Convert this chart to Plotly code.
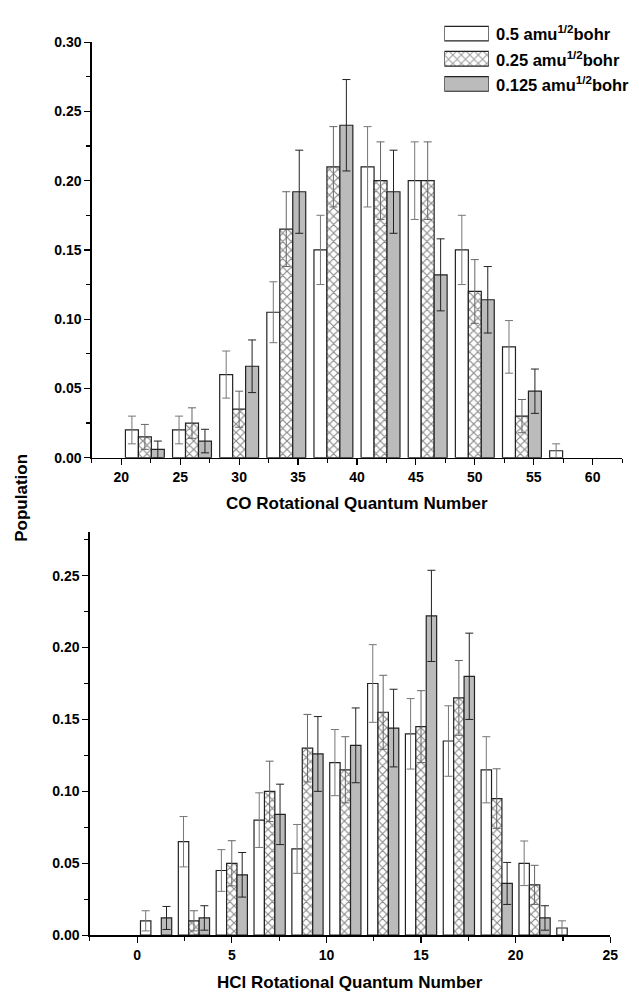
import plotly.graph_objects as go

# ---------------- data ----------------
series_names = ["0.5 amu<sup>1/2</sup>bohr", "0.25 amu<sup>1/2</sup>bohr", "0.125 amu<sup>1/2</sup>bohr"]

co_j = [22, 26, 30, 34, 38, 42, 46, 50, 54, 58]
co_05 = [0.020, 0.020, 0.060, 0.105, 0.150, 0.210, 0.200, 0.150, 0.080, 0.005]
co_05_err = [0.010, 0.010, 0.017, 0.022, 0.025, 0.029, 0.028, 0.025, 0.019, 0.005]
co_025 = [0.015, 0.025, 0.035, 0.165, 0.210, 0.200, 0.200, 0.120, 0.030, None]
co_025_err = [0.009, 0.011, 0.013, 0.027, 0.029, 0.028, 0.028, 0.023, 0.012, None]
co_0125 = [0.006, 0.012, 0.066, 0.192, 0.240, 0.192, 0.132, 0.114, 0.048, None]
co_0125_err = [0.006, 0.0085, 0.019, 0.030, 0.033, 0.030, 0.026, 0.024, 0.016, None]

hcl_j = [1, 3, 5, 7, 9, 11, 13, 15, 17, 19, 21, 23]
hcl_05 = [0.010, 0.065, 0.045, 0.080, 0.060, 0.120, 0.175, 0.140, 0.135, 0.115, 0.050, 0.005]
hcl_05_err = [0.007, 0.0175, 0.0145, 0.019, 0.017, 0.023, 0.027, 0.0245, 0.0245, 0.023, 0.0155, 0.005]
hcl_025 = [None, 0.010, 0.050, 0.100, 0.130, 0.115, 0.155, 0.145, 0.165, 0.095, 0.035, None]
hcl_025_err = [None, 0.007, 0.0157, 0.021, 0.0235, 0.023, 0.0257, 0.025, 0.026, 0.0207, 0.0136, None]
hcl_0125 = [0.012, 0.012, 0.042, 0.084, 0.126, 0.132, 0.144, 0.222, 0.180, 0.036, 0.012, None]
hcl_0125_err = [0.008, 0.0085, 0.0155, 0.021, 0.026, 0.026, 0.027, 0.0317, 0.030, 0.0146, 0.0085, None]

co_xticks = [20, 25, 30, 35, 40, 45, 50, 55, 60]
hcl_xticks = [0, 5, 10, 15, 20, 25]

# ---------------- styles ----------------
FONT = "Liberation Sans, Arial, sans-serif"
EDGE = dict(color="#222222", width=1.2)
GRAY = "#bbbbbb"
HATCH = dict(shape="x", fgcolor="#111111", bgcolor="white", size=6, solidity=0.35)
styles = [
    dict(marker=dict(color="white", line=EDGE), err="#777777"),
    dict(marker=dict(color="white", line=EDGE, pattern=HATCH), err="#666666"),
    dict(marker=dict(color=GRAY, line=EDGE), err="#222222"),
]

fig = go.Figure()

def add_group(xs, ys, errs, xa, ya, st):
    fig.add_trace(go.Bar(
        x=xs, y=ys, xaxis=xa, yaxis=ya, marker=st["marker"],
        error_y=dict(type="data", array=errs, visible=True, color=st["err"], thickness=1, width=4),
        showlegend=False,
    ))

for ys, es, st in zip([co_05, co_025, co_0125], [co_05_err, co_025_err, co_0125_err], styles):
    add_group(co_j, ys, es, "x", "y", st)
for ys, es, st in zip([hcl_05, hcl_025, hcl_0125], [hcl_05_err, hcl_025_err, hcl_0125_err], styles):
    add_group(hcl_j, ys, es, "x2", "y2", st)

# legend swatches (horizontal bars on a hidden axis)
fig.add_trace(go.Bar(
    x=[1, 1, 1], y=[2, 1, 0], orientation="h", width=0.58, xaxis="x3", yaxis="y3",
    marker=dict(color=["white", "white", GRAY], line=EDGE,
                pattern=dict(HATCH, shape=["", "x", ""])),
    showlegend=False, hoverinfo="skip",
))

W, H = 639, 999
def px(x):
    return x / W
def py(y):
    return 1 - y / H

tickfont = dict(family=FONT, size=14, color="black", weight="bold")
common = dict(showline=True, linecolor="black", linewidth=1.5, ticks="outside", ticklen=6, tickwidth=1.2,
              tickcolor="black", showgrid=False, zeroline=False, tickfont=tickfont,
              minor=dict(ticks="outside", ticklen=4, tickwidth=1.2, tickcolor="black", showgrid=False))

fig.update_layout(
    width=W, height=H, autosize=False,
    margin=dict(l=0, r=0, t=0, b=0),
    paper_bgcolor="white", plot_bgcolor="white",
    barmode="group", bargap=0.175, bargroupgap=0,
    hovermode=False,
    font=dict(family=FONT, color="black"),
    xaxis=dict(common, domain=[px(93), px(630)], range=[17.5, 62.5], anchor="y",
               tickvals=co_xticks, minor=dict(common["minor"], dtick=2.5, tick0=0)),
    yaxis=dict(common, domain=[py(457), py(34.7)], range=[0, 0.30], anchor="x",
               dtick=0.05, tick0=0, tickformat=".2f", minor=dict(common["minor"], dtick=0.025, tick0=0)),
    xaxis2=dict(common, domain=[px(91), px(618)], range=[-2.5, 25], anchor="y2",
                tickvals=hcl_xticks, minor=dict(common["minor"], dtick=2.5, tick0=0)),
    yaxis2=dict(common, domain=[py(942.3), py(533)], range=[0, 0.28], anchor="x2",
                dtick=0.05, tick0=0, tickformat=".2f", minor=dict(common["minor"], dtick=0.025, tick0=0)),
    xaxis3=dict(domain=[px(450), px(495)], range=[0, 1], visible=False, anchor="y3", fixedrange=True),
    yaxis3=dict(domain=[py(90), py(13.2)], range=[-0.5, 2.5], visible=False, anchor="x3", fixedrange=True),
)

title_font = dict(family=FONT, size=17, color="black", weight="bold")
annotations = [
    dict(text="Population", x=px(21), y=py(498), textangle=-90, font=title_font),
    dict(text="CO Rotational Quantum Number", x=px(361.5), y=py(504), font=title_font),
    dict(text="HCl Rotational Quantum Number", x=px(354.5), y=py(990), font=title_font),
]
for a in annotations:
    a.update(xref="paper", yref="paper", showarrow=False, xanchor="center", yanchor="middle")
legend_rows = [25.8, 51.5, 77.2]
for name, yy in zip(series_names, legend_rows):
    annotations.append(dict(text=name, x=px(500), y=py(yy), xref="paper", yref="paper", showarrow=False,
                            xanchor="left", yanchor="middle",
                            font=dict(family=FONT, size=16.5, color="black", weight="bold")))
fig.update_layout(annotations=annotations)

fig.write_html("out.html", config={"staticPlot": True},
               post_script="document.body.style.margin='0px';")
